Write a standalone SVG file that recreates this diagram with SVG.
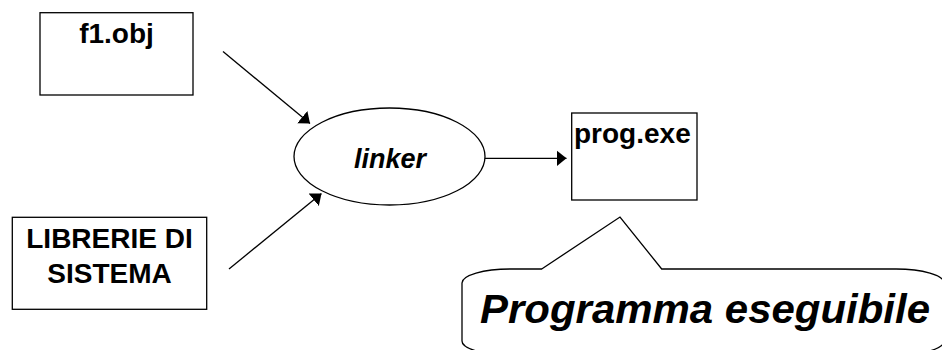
<svg xmlns="http://www.w3.org/2000/svg" width="942" height="350" viewBox="0 0 942 350">
  <style>
    .box { fill: #ffffff; stroke: #000000; stroke-width: 1.3; }
    .edge { fill: none; stroke: #000000; stroke-width: 1.3; }
    .lbl { font-family: "Liberation Sans", Arial, sans-serif; font-weight: bold; fill: #000000; }
  </style>
  <defs>
    <marker id="arrow" viewBox="0 0 10 16" refX="10" refY="8" markerWidth="10" markerHeight="16" markerUnits="userSpaceOnUse" orient="auto">
      <path d="M0,0 L10,8 L0,16 Z" fill="#000000"/>
    </marker>
  </defs>

  <rect width="942" height="350" fill="#ffffff"/>

  <g id="f1obj">
    <rect class="box" x="40" y="12.7" width="153" height="82.3"/>
    <text class="lbl" x="116.5" y="43" font-size="28" text-anchor="middle">f1.obj</text>
  </g>

  <g id="librerie">
    <rect class="box" x="12.3" y="217.3" width="194.4" height="92"/>
    <text class="lbl" x="109.5" y="248.3" font-size="28" text-anchor="middle">LIBRERIE DI</text>
    <text class="lbl" x="109.5" y="282.7" font-size="28" text-anchor="middle">SISTEMA</text>
  </g>

  <g id="linker">
    <ellipse class="box" cx="389.5" cy="156.5" rx="95.5" ry="48.5"/>
    <text class="lbl" x="390" y="168" font-size="27" font-style="italic" text-anchor="middle">linker</text>
  </g>

  <g id="progexe">
    <rect class="box" x="571.7" y="113" width="125.3" height="87"/>
    <text class="lbl" x="574" y="143" font-size="28">prog.exe</text>
  </g>

  <g id="callout">
    <path class="box" d="M541.7,269 L620,217 L661.7,269 L896,269 A48,14 0 0 1 944,283 L944,341 A48,14 0 0 1 896,355 L510,355 A48,14 0 0 1 462,341 L462,283 A48,14 0 0 1 510,269 Z"/>
    <text class="lbl" x="705" y="322.5" font-size="40" font-style="italic" text-anchor="middle" textLength="450" lengthAdjust="spacingAndGlyphs">Programma eseguibile</text>
  </g>

  <g id="connectors">
    <line class="edge" x1="223" y1="51.5" x2="310" y2="123.5" marker-end="url(#arrow)"/>
    <line class="edge" x1="229" y1="269" x2="321.5" y2="193.5" marker-end="url(#arrow)"/>
    <line class="edge" x1="485" y1="158.3" x2="566.5" y2="158.3" marker-end="url(#arrow)"/>
  </g>
</svg>
